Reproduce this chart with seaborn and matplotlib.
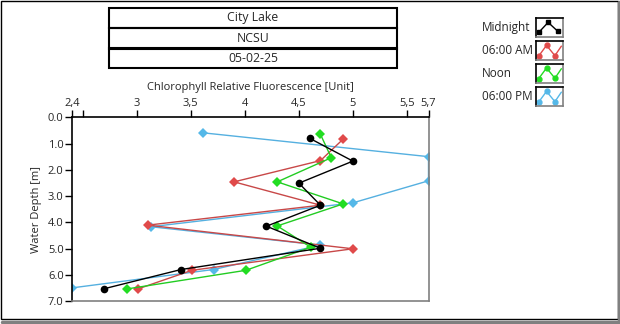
import matplotlib
matplotlib.use("Agg")
import matplotlib.pyplot as plt
import seaborn as sns
import pandas as pd
from matplotlib.patches import Rectangle
from matplotlib.lines import Line2D

# ---- data ----
series_names = ["Midnight", "06:00 AM", "Noon", "06:00 PM"]
depth_mid = [0.80, 1.67, 2.51, 3.35, 4.15, 4.99, 5.80, 6.53]
val_mid = [4.60, 5.00, 4.50, 4.70, 4.20, 4.70, 3.41, 2.70]
depth_am = [0.83, 1.65, 2.46, 3.35, 4.11, 5.01, 5.83, 6.54]
val_am = [4.91, 4.70, 3.90, 4.70, 3.10, 5.00, 3.51, 3.01]
depth_noon = [0.65, 1.54, 2.46, 3.30, 4.14, 4.95, 5.83, 6.54]
val_noon = [4.70, 4.80, 4.30, 4.91, 4.30, 4.61, 4.01, 2.91]
depth_pm = [0.59, 1.50, 2.42, 3.26, 4.17, 4.87, 5.80, 6.50]
val_pm = [3.61, 5.70, 5.70, 5.00, 3.13, 4.70, 3.71, 2.40]

x_ticks = [2.4, 2.5, 3, 3.5, 4, 4.5, 5, 5.5, 5.7]
x_tick_labels = ["2,4", "", "3", "3,5", "4", "4,5", "5", "5,5", "5,7"]
y_ticks = [0, 1, 2, 3, 4, 5, 6, 7]
y_tick_labels = ["0.0", "1.0", "2.0", "3.0", "4.0", "5.0", "6.0", "7.0"]
title_lines = ["City Lake", "NCSU", "05-02-25"]

colors = {"Midnight": "#000000", "06:00 AM": "#e04a4a",
          "Noon": "#22dd22", "06:00 PM": "#55b8e8"}
line_colors = {"Midnight": "#000000", "06:00 AM": "#c84848",
               "Noon": "#22cc22", "06:00 PM": "#55b0e0"}
markers = {"Midnight": "o", "06:00 AM": "D", "Noon": "D", "06:00 PM": "D"}

frames = []
for name, d, v in zip(series_names,
                      [depth_mid, depth_am, depth_noon, depth_pm],
                      [val_mid, val_am, val_noon, val_pm]):
    frames.append(pd.DataFrame({"series": name, "depth": d, "value": v}))
df = pd.concat(frames, ignore_index=True)

sns.set_style("white")
plt.rcParams["font.family"] = ["Open Sans", "DejaVu Sans"]
FS = 8

W, H = 620, 324
fig = plt.figure(figsize=(W / 100, H / 100), dpi=100)

def fx(px):
    return px / W

def fy(py):
    return 1 - py / H

left, right, top, bottom = 72, 428.5, 117.3, 301
ax = fig.add_axes([fx(left), fy(bottom), fx(right) - fx(left), fy(top) - fy(bottom)])

draw_order = ["06:00 PM", "06:00 AM", "Noon", "Midnight"]
for name in draw_order:
    sub = df[df["series"] == name]
    sns.lineplot(data=sub, x="value", y="depth", sort=False, estimator=None,
                 color=line_colors[name], marker=markers[name],
                 markerfacecolor=colors[name],
                 markersize=5 if markers[name] == "D" else 5.5,
                 markeredgewidth=0, linewidth=1.0, ax=ax, legend=False)

ax.set_xlim(2.4, 5.7)
ax.set_ylim(7, 0)
ax.xaxis.tick_top()
ax.xaxis.set_label_position("top")
ax.set_xticks(x_ticks)
ax.set_xticklabels(x_tick_labels, fontsize=FS)
ax.set_yticks(y_ticks)
ax.set_yticklabels(y_tick_labels, fontsize=FS)
ax.tick_params(axis="both", direction="out", length=5, width=1, color="black", pad=1,
               top=True, left=True, bottom=False, right=False)
ax.set_xlabel("Chlorophyll Relative Fluorescence [Unit]", fontsize=FS, labelpad=6)
ax.set_ylabel("Water Depth [m]", fontsize=FS, labelpad=4)
for s in ["left", "top"]:
    ax.spines[s].set_color("black")
    ax.spines[s].set_linewidth(1.2)
for s in ["right", "bottom"]:
    ax.spines[s].set_color("#808080")
    ax.spines[s].set_linewidth(1.2)

# ---- title boxes ----
box_edges = [8, 28, 48.5, 68]
for i, txt in enumerate(title_lines):
    y0, y1 = box_edges[i], box_edges[i + 1]
    fig.patches.append(Rectangle((fx(109), fy(y1)), fx(397) - fx(109), fy(y0) - fy(y1),
                                 transform=fig.transFigure, fill=False,
                                 edgecolor="black", linewidth=1.5))
    fig.text(fx(253), fy((y0 + y1) / 2), txt, ha="center", va="center", fontsize=8.8)

# ---- legend ----
row_centers = [27.7, 50.7, 73.3, 96.7]
for name, yc in zip(series_names, row_centers):
    fig.text(fx(482), fy(yc), name, ha="left", va="center", fontsize=FS + 0.5)
    iax = fig.add_axes([fx(536), fy(yc + 9.5), fx(563) - fx(536), fy(yc - 9.5) - fy(yc + 9.5)])
    iax.set_xlim(0, 1)
    iax.set_ylim(0, 1)
    iax.set_xticks([])
    iax.set_yticks([])
    for s in ["left", "top"]:
        iax.spines[s].set_color("black")
        iax.spines[s].set_linewidth(1.2)
    for s in ["right", "bottom"]:
        iax.spines[s].set_color("#808080")
        iax.spines[s].set_linewidth(1.2)
    if name == "Midnight":
        gx, gy = [0.12, 0.45, 0.80], [0.28, 0.78, 0.32]
        iax.plot(gx, gy, color=colors[name], lw=1)
        iax.plot(gx, gy, ls="none", marker="s", ms=3.5, color=colors[name])
    else:
        gx, gy = [0.1, 0.39, 0.70, 0.94], [0.22, 0.78, 0.24, 0.74]
        iax.plot(gx, gy, color=colors[name], lw=1)
        iax.plot(gx[:3], gy[:3], ls="none", marker="o", ms=3.5, color=colors[name])

# ---- outer frame ----
fig.patches.append(Rectangle((fx(0.5), fy(318.5)), fx(617.5) - fx(0.5), fy(0.5) - fy(318.5),
                             transform=fig.transFigure, fill=False,
                             edgecolor="black", linewidth=1))
fig.lines.append(Line2D([fx(2), fx(620)], [fy(321.5), fy(321.5)], transform=fig.transFigure,
                        color="#808080", linewidth=2.5))
fig.lines.append(Line2D([fx(619), fx(619)], [fy(2), fy(323)], transform=fig.transFigure,
                        color="#808080", linewidth=2.5))

fig.savefig("out.png", dpi=100)
